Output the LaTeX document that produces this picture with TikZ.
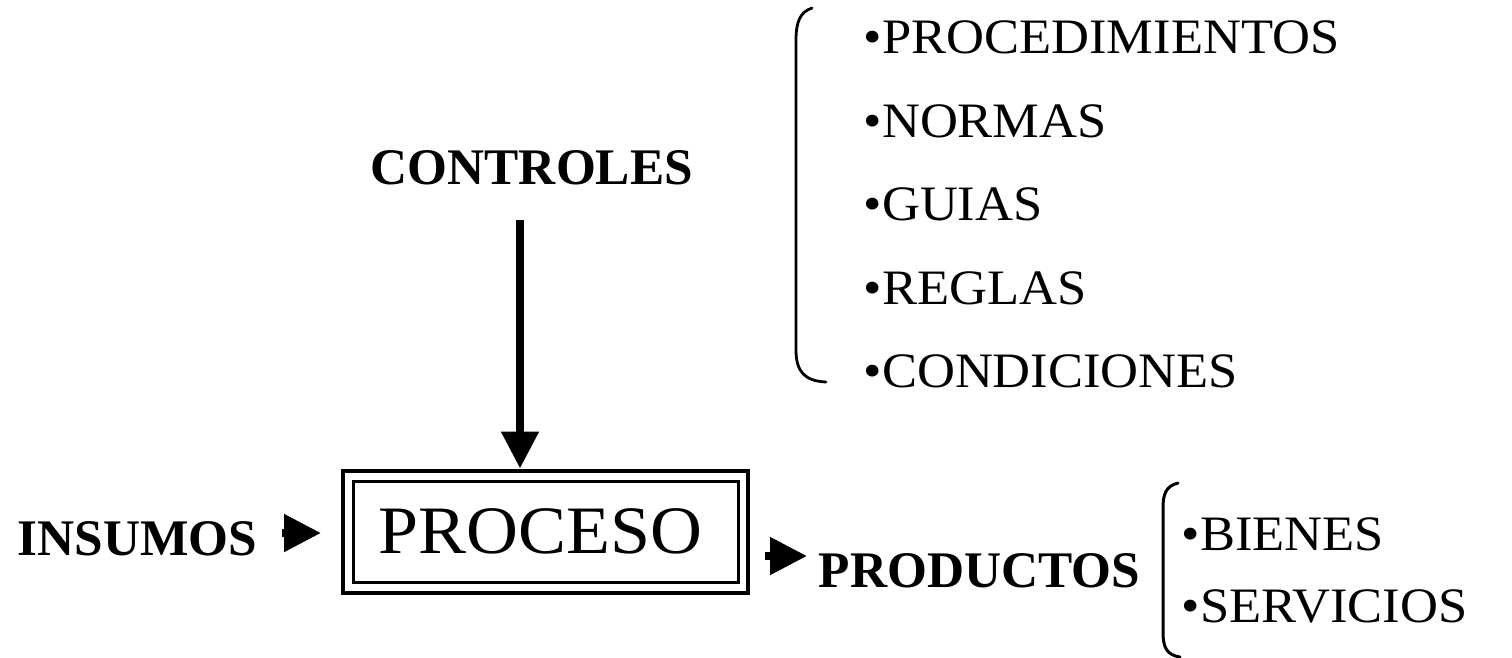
\documentclass[tikz,border=0pt]{standalone}
\usepackage{fontspec}
\setmainfont{Liberation Serif}
\newfontfamily\anchafont[FakeStretch=1.06]{Liberation Serif}
\usetikzlibrary{arrows.meta,matrix}

\begin{document}
\begin{tikzpicture}[x=0.1mm,y=-0.1mm,
  negrita/.style={font=\bfseries\fontsize{14.6}{17}\selectfont,inner sep=0pt,anchor=base west},
  punto/.style={font=\anchafont\fontsize{14.1}{16}\selectfont,inner sep=0pt,anchor=base west,text height=3.3mm,text depth=0pt},
  flecha/.style={line width=0.8mm,-{Triangle[length=3.7mm,width=3.6mm]}},
  llave/.style={line width=0.28mm,line cap=round}]
\useasboundingbox (0,0) rectangle (1512,657);

\node[negrita] (controles) at (370,184) {CONTROLES};
\node[negrita] (insumos) at (17,555) {INSUMOS};
\node[negrita] (productos) at (818,587) {PRODUCTOS};

\node[draw,line width=0.4mm,minimum width=40.5mm,minimum height=12.2mm] (marco) at (545.5,531.5) {};
\node[draw,line width=0.3mm,minimum width=38.5mm,minimum height=10.1mm,inner sep=0pt,
  font=\anchafont\fontsize{19.3}{22}\selectfont] (proceso) at (marco.center) {PROCESO\hspace*{1mm}};

\matrix (lista)[matrix of nodes,inner sep=0pt,row sep=5.05mm,nodes={punto},anchor=north west] at (863,20) {
•PROCEDIMIENTOS \\
•NORMAS \\
•GUIAS \\
•REGLAS \\
•CONDICIONES \\
};
\matrix (salidas)[matrix of nodes,inner sep=0pt,row sep=3.9mm,nodes={punto},anchor=north west] at (1181,517) {
•BIENES \\
•SERVICIOS \\
};

\coordinate (arranque) at (520,220);
\coordinate (entrada) at ([yshift=2.2mm]insumos.base east);
\coordinate (salida) at ([yshift=3.1mm]productos.base west);
\draw[flecha] (arranque) -- (arranque |- marco.north);
\draw[flecha,shorten <=2.4mm,shorten >=2mm] (entrada) -- (entrada -| marco.west);
\draw[flecha,shorten <=1.5mm,shorten >=1.1mm] (salida -| marco.east) -- (salida);

\draw[llave] (812,8) .. controls (800,12) and (796,22) .. (796,40) -- (796,350) .. controls (796,372) and (805,381) .. (826,382);
\draw[llave,line width=0.3mm] (1178,483) .. controls (1166,486) and (1163,494) .. (1163,508) -- (1163,632) .. controls (1163,648) and (1167,655) .. (1180,657);
\end{tikzpicture}
\end{document}
